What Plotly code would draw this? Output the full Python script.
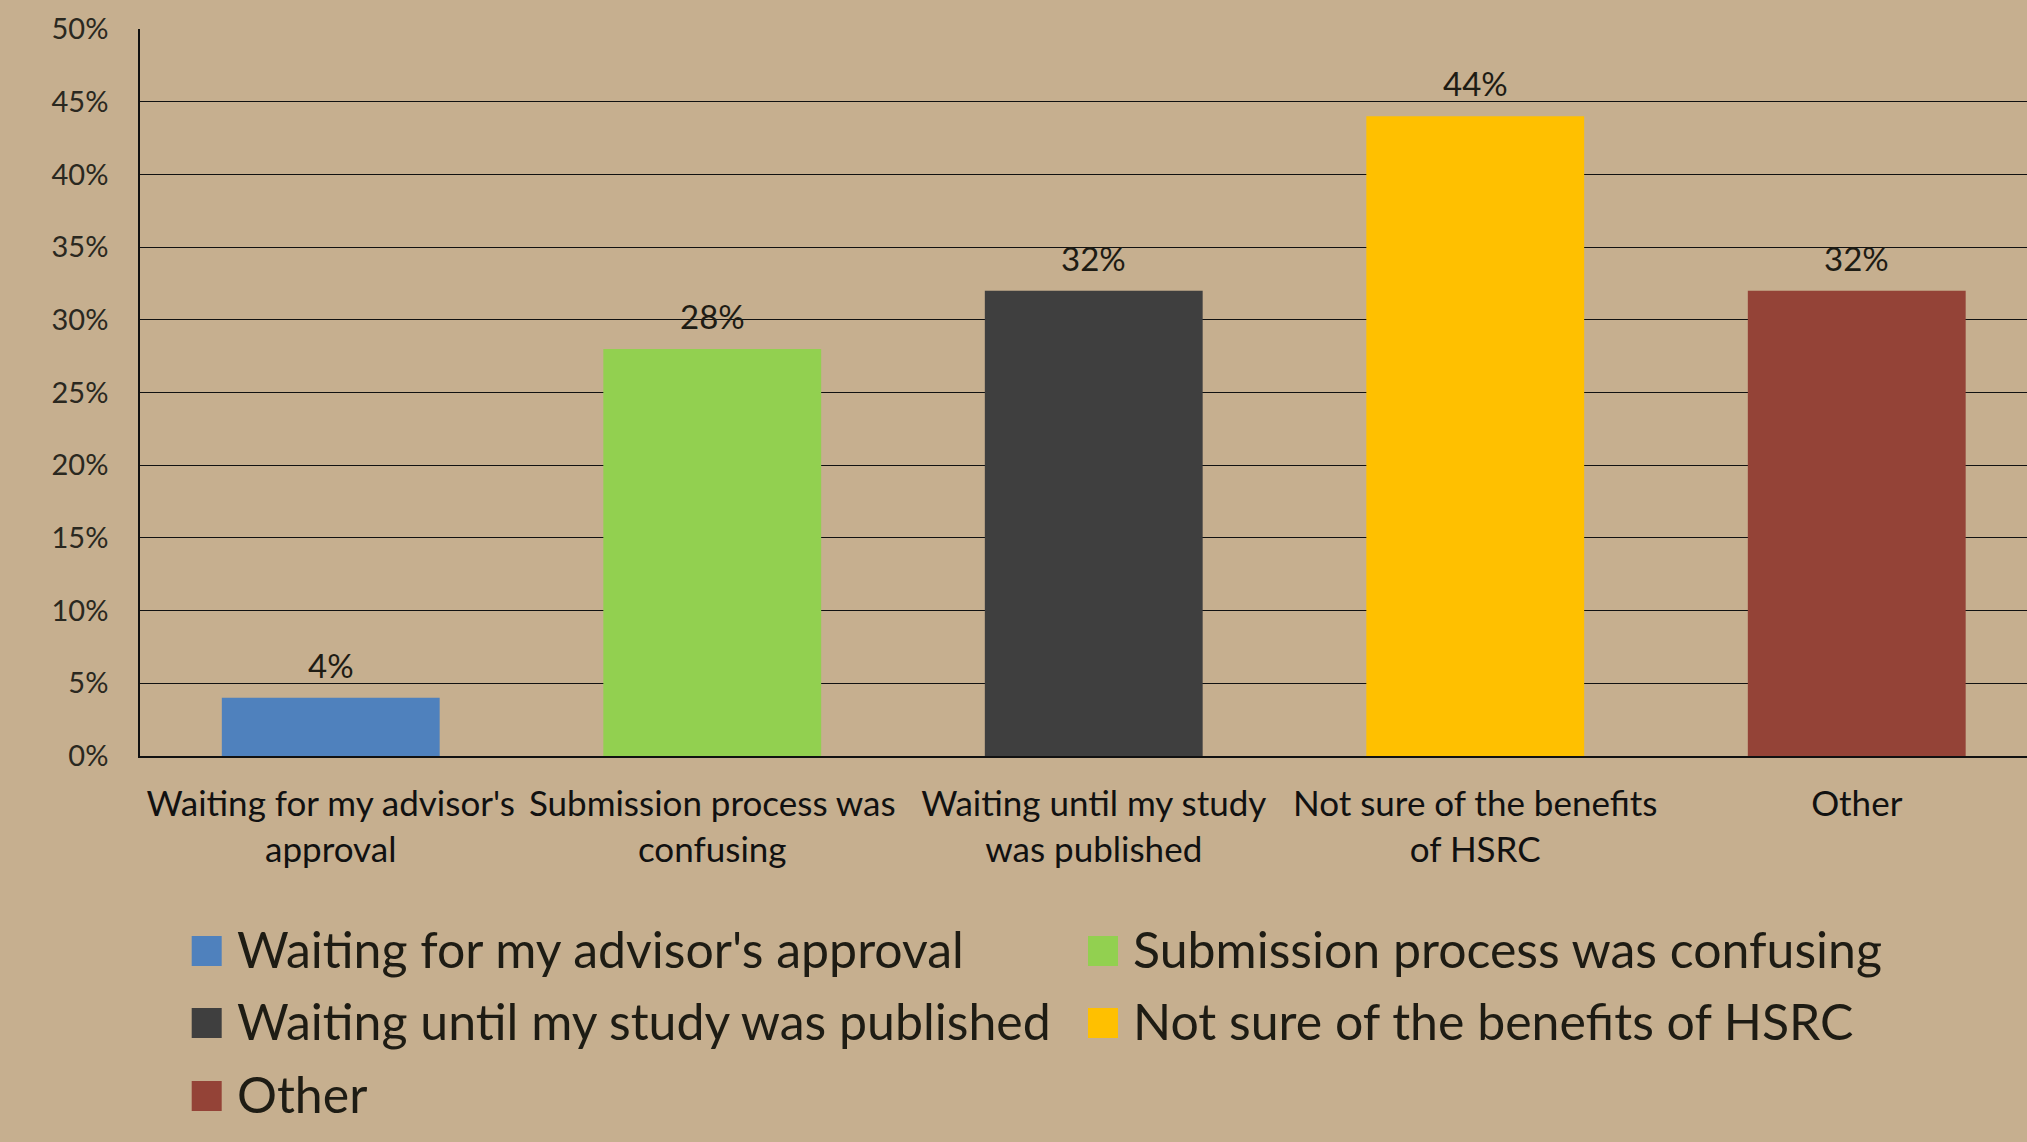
import plotly.graph_objects as go

categories = ["Waiting for my advisor's approval", "Submission process was confusing",
              "Waiting until my study was published", "Not sure of the benefits of HSRC", "Other"]
tick_labels = ["Waiting for my advisor's<br>approval", "Submission process was<br>confusing",
               "Waiting until my study<br>was published", "Not sure of the benefits<br>of HSRC", "Other"]
values = [4, 28, 32, 44, 32]
colors = ["#4F81BD", "#92D050", "#3F3F3F", "#FFC000", "#944337"]

BG = "#C6AF8F"
TXT = "#1e1c14"
FONT = "Lato"

W, H = 2027, 1142
ML, MT, MB = 140, 29, 386
plot_w = W - ML
plot_h = H - MT - MB

fig = go.Figure()
fig.add_trace(go.Bar(x=categories, y=values, marker_color=colors, marker_line_width=0,
                     width=0.571, showlegend=False, hoverinfo="x+y"))

# data labels above bars
for c, v in zip(categories, values):
    fig.add_annotation(x=c, y=v, text=f"{v}%", showarrow=False, yanchor="middle", yshift=33,
                       font=dict(family=FONT, size=33, color=TXT))

# legend drawn by hand: two columns, big square swatches
col_x = [191.7, 1088]
row_y = [951, 1023, 1096]
sq = 30
for i, (name, col) in enumerate(zip(categories, colors)):
    px = col_x[i % 2]
    py = row_y[i // 2]
    fig.add_shape(type="rect", xref="paper", yref="paper",
                  x0=(px - ML) / plot_w, x1=(px + sq - ML) / plot_w,
                  y0=(H - MB - (py + sq / 2)) / plot_h, y1=(H - MB - (py - sq / 2)) / plot_h,
                  fillcolor=col, line=dict(width=0))
    fig.add_annotation(xref="paper", yref="paper", x=(px + sq + 13 - ML) / plot_w,
                       y=(H - MB - py + 2) / plot_h, text=name, showarrow=False,
                       xanchor="left", yanchor="middle",
                       font=dict(family=FONT, size=50, color=TXT))

fig.update_layout(
    width=W, height=H,
    margin=dict(l=ML, r=0, t=MT, b=MB),
    paper_bgcolor=BG, plot_bgcolor=BG,
    font=dict(family=FONT, color=TXT),
)
fig.update_xaxes(
    range=[-0.5, -0.5 + plot_w / 381.5],
    tickmode="array", tickvals=categories, ticktext=tick_labels,
    tickfont=dict(family=FONT, size=35, color="#111111"),
    showline=True, linecolor="#111111", linewidth=2,
    showgrid=False, ticks="", ticklabelstandoff=16,
)
fig.update_yaxes(
    range=[0, 50], dtick=5, ticksuffix="%",
    tickfont=dict(family=FONT, size=29, color="#2a2820"),
    showline=True, linecolor="#111111", linewidth=1.5,
    showgrid=True, gridcolor="#111111", gridwidth=1.3,
    zeroline=False, ticks="", ticklabelstandoff=24,
)

fig.write_html("out.html", config={"displayModeBar": False},
               post_script="document.body.style.margin='0';document.body.style.overflow='hidden';")
